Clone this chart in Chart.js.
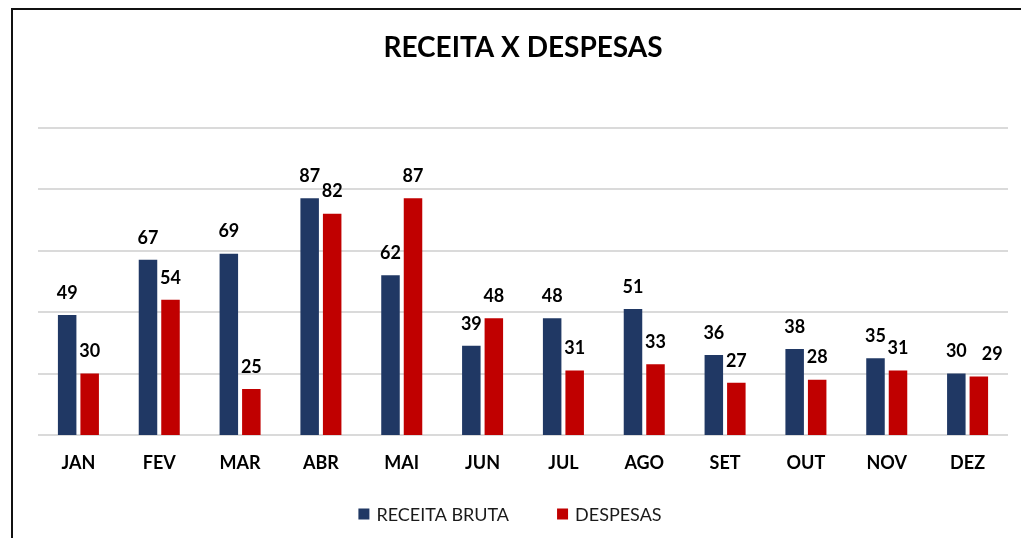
<!DOCTYPE html>
<html>
<head>
<meta charset="utf-8">
<script src="https://cdn.jsdelivr.net/npm/chart.js@4.4.1/dist/chart.umd.min.js"></script>
<style>
html,body{margin:0;padding:0;background:#fff;overflow:hidden;}
#wrap{position:relative;width:1021px;height:538px;}
#frame{position:absolute;left:11px;top:8px;width:1100px;height:700px;border:2px solid #111;box-sizing:border-box;}
#c{position:absolute;left:0;top:0;}
</style>
</head>
<body>
<div id="wrap">
<div id="frame"></div>
<canvas id="c" width="1021" height="538"></canvas>
</div>
<script>
const categories = ['JAN','FEV','MAR','ABR','MAI','JUN','JUL','AGO','SET','OUT','NOV','DEZ'];
const receitaBruta = [49,67,69,87,62,39,48,51,36,38,35,30];
const despesas = [30,54,25,82,87,48,31,33,27,28,31,29];
const seriesNames = ['RECEITA BRUTA','DESPESAS'];
const seriesColors = ['#203864','#c00000'];
const titleText = 'RECEITA X DESPESAS';

const FONT = 'Lato, "Open Sans", sans-serif';

// value labels above bars; a label that would collide with its neighbour is nudged right
const labelPlugin = {
  id: 'barLabels',
  afterDatasetsDraw(chart) {
    const ctx = chart.ctx;
    ctx.save();
    ctx.font = 'bold 18px ' + FONT;
    ctx.fillStyle = '#000';
    ctx.textAlign = 'center';
    ctx.textBaseline = 'middle';
    const n = chart.data.labels.length;
    for (let j = 0; j < n; j++) {
      let prev = null;
      chart.data.datasets.forEach((ds, i) => {
        const bar = chart.getDatasetMeta(i).data[j];
        const txt = String(ds.data[j]);
        const w = ctx.measureText(txt).width;
        let x = bar.x;
        const y = bar.y - 22;
        if (prev && Math.abs(prev.y - y) < 9) {
          const minX = prev.x + prev.w / 2 + 15 + w / 2;
          if (x < minX) x = minX;
        }
        ctx.fillText(txt, x, y);
        prev = {x, y, w};
      });
    }
    ctx.restore();
  }
};

// legend drawn from the datasets (wider gap between entries than Chart.js allows)
const legendPlugin = {
  id: 'customLegend',
  afterDraw(chart) {
    const ctx = chart.ctx;
    ctx.save();
    ctx.font = '18px ' + FONT;
    ctx.textBaseline = 'middle';
    ctx.textAlign = 'left';
    const box = 11, textGap = 7, itemGap = 48, y = 514;
    const items = chart.data.datasets.map(ds => ({text: ds.label, color: ds.backgroundColor, w: box + textGap + ctx.measureText(ds.label).width}));
    const total = items.reduce((s, it) => s + it.w, 0) + itemGap * (items.length - 1);
    let x = 510 - total / 2;
    items.forEach(it => {
      ctx.fillStyle = it.color;
      ctx.fillRect(x, y - box / 2, box, box);
      ctx.fillStyle = '#1a1a1a';
      ctx.fillText(it.text, x + box + textGap, y + 1);
      x += it.w + itemGap;
    });
    ctx.restore();
  }
};

new Chart(document.getElementById('c'), {
  type: 'bar',
  data: {
    labels: categories,
    datasets: [
      {label: seriesNames[0], data: receitaBruta, backgroundColor: seriesColors[0], borderWidth: 0},
      {label: seriesNames[1], data: despesas, backgroundColor: seriesColors[1], borderWidth: 0}
    ]
  },
  options: {
    responsive: false,
    animation: false,
    devicePixelRatio: 1,
    layout: {padding: {left: 12, right: 13, top: 31, bottom: 63}},
    datasets: {bar: {categoryPercentage: 0.557, barPercentage: 0.822}},
    scales: {
      x: {
        grid: {display: false, drawTicks: false},
        border: {display: false},
        ticks: {color: '#000', font: {family: FONT, size: 18, weight: 'bold'}, padding: 17, autoSkip: false, maxRotation: 0},
        afterFit(s) { s.height = 40; }
      },
      y: {
        min: 10, max: 110,
        ticks: {display: false, stepSize: 20},
        grid: {color: '#dadada', lineWidth: 2, drawTicks: false},
        border: {display: false},
        afterFit(s) { s.width = 26; }
      }
    },
    plugins: {
      tooltip: {enabled: false},
      legend: {display: false},
      title: {
        display: true, text: titleText, fullSize: false,
        color: '#000',
        font: {family: FONT, size: 28, weight: 'bold', lineHeight: 1.2},
        padding: {top: 0, bottom: 63}
      }
    }
  },
  plugins: [labelPlugin, legendPlugin]
});
</script>
</body>
</html>
